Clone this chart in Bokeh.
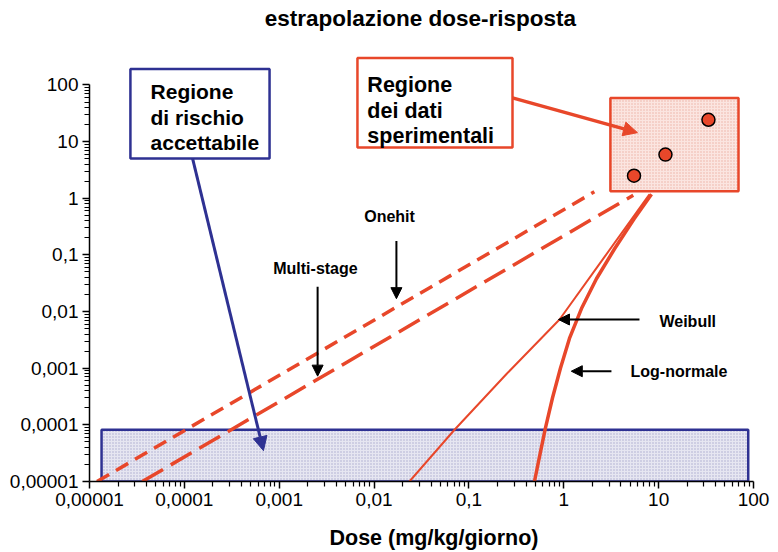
import math
from bokeh.plotting import figure
from bokeh.models import (Range1d, FixedTicker, CustomJSTickFormatter, Arrow, NormalHead, Label)
from bokeh.core.properties import value
from bokeh.embed import file_html
from bokeh.resources import INLINE

# ---------------- data ----------------
tick_values = [1e-5, 1e-4, 1e-3, 1e-2, 1e-1, 1, 10, 100]
tick_labels = ["0,00001", "0,0001", "0,001", "0,01", "0,1", "1", "10", "100"]

exp_dose = [5.5, 11.8, 33.5]
exp_resp = [2.5, 5.9, 24.3]

onehit_dose = [1.2e-5, 2.1]
onehit_resp = [1e-5, 1.3]

multistage_dose = [3.6e-5, 5.4]
multistage_resp = [1e-5, 1.13]

weibull_dose = [0.0236, 0.0705, 0.249, 0.902, 2.69, 8.0]
weibull_resp = [1e-5, 8.2e-5, 7.9e-4, 7.24e-3, 0.0923, 1.175]

lognorm_dose = [0.491, 0.552, 0.641, 0.760, 0.922, 1.148, 1.537, 2.21, 3.42, 5.50, 8.41]
lognorm_resp = [1e-5, 2.64e-5, 8.85e-5, 2.98e-4, 1e-3, 3.36e-3, 0.0113, 0.0379, 0.127, 0.429, 1.175]

accept_dose = [1.34e-5, 88.0]
accept_resp = [1e-5, 8.2e-5]

expbox_dose = [3.1, 69.5]
expbox_resp = [1.33, 59.0]

RED = "#e8472a"
BLUE = "#2e3192"
FONT = value("Liberation Sans")

p = figure(width=778, height=552, x_axis_type="log", y_axis_type="log",
           x_range=Range1d(1e-5, 10 ** 2.2636), y_range=Range1d(1e-5, 10 ** 3.491),
           output_backend="svg", toolbar_location=None, title=None,
           min_border_left=89, min_border_right=0, min_border_top=0, min_border_bottom=68)
p.outline_line_color = None
p.grid.visible = False
p.background_fill_color = "white"
p.border_fill_color = "white"

minor = [k * 10.0 ** e for e in range(-5, 2) for k in range(2, 10)]
fmt = CustomJSTickFormatter(args=dict(vals=tick_values, labs=tick_labels), code="""
    for (let i = 0; i < vals.length; i++) {
        if (Math.abs(Math.log10(tick) - Math.log10(vals[i])) < 1e-6) return labs[i];
    }
    return '';
""")
for ax in (p.xaxis[0], p.yaxis[0]):
    ax.ticker = FixedTicker(ticks=tick_values, minor_ticks=minor)
    ax.formatter = fmt
    ax.bounds = (1e-5, 100)
    ax.axis_line_color = "black"
    ax.axis_line_width = 1.5
    ax.major_tick_line_color = "black"
    ax.minor_tick_line_color = "black"
    ax.major_tick_line_width = 1.5
    ax.minor_tick_line_width = 1.2
    ax.major_tick_out = 7
    ax.major_tick_in = 0
    ax.minor_tick_out = 5
    ax.minor_tick_in = 0
    ax.major_label_text_font = "Liberation Sans"
    ax.major_label_text_font_size = "19px"
    ax.major_label_text_color = "black"
    ax.major_label_standoff = 4
    ax.axis_label_text_font = "Liberation Sans"
    ax.axis_label_text_font_style = "bold"
    ax.axis_label_text_font_size = "21.5px"
    ax.axis_label_text_color = "black"

p.xaxis.axis_label = "Dose (mg/kg/giorno)"
p.xaxis.axis_label_standoff = 17

# y-axis title placed over the tick-label column, as in the original
p.add_layout(Label(x=2.39e-6, y=0.031, text="% Risposta", angle=math.pi / 2,
                   text_font="Liberation Sans", text_font_style="bold", text_font_size="21px",
                   text_align="center", text_baseline="middle", text_color="black"))

# acceptable-risk region
p.quad(left=[accept_dose[0]], right=[accept_dose[1]], bottom=[accept_resp[0]], top=[accept_resp[1]],
       fill_color="#e6e6f1", line_color=BLUE, line_width=2.5,
       hatch_pattern="dot", hatch_color="#9c9cc4", hatch_scale=3, hatch_weight=1, hatch_alpha=0.8)

# model lines
p.line(onehit_dose, onehit_resp, line_color=RED, line_width=3.5, line_dash="14 8")
p.line(multistage_dose, multistage_resp, line_color=RED, line_width=3.5, line_dash="24 9")
p.line(weibull_dose, weibull_resp, line_color=RED, line_width=2, line_join="round")
p.line(lognorm_dose, lognorm_resp, line_color=RED, line_width=3.5, line_join="round")

# experimental region
p.quad(left=[expbox_dose[0]], right=[expbox_dose[1]], bottom=[expbox_resp[0]], top=[expbox_resp[1]],
       fill_color="#fbe5e0", line_color=RED, line_width=2.5,
       hatch_pattern="dot", hatch_color="#e8a496", hatch_scale=3, hatch_weight=1, hatch_alpha=0.8)
p.scatter(exp_dose, exp_resp, size=13, fill_color=RED, line_color="black", line_width=1.5)

# title
p.text(x=[0.0308], y=[1496], text=["estrapolazione dose-risposta"], text_font=FONT,
       text_font_style="bold", text_font_size="22.5px", text_align="center",
       text_baseline="middle", text_color="black")

# callout boxes
p.quad(left=[2.7e-5], right=[7.91e-4], bottom=[5.04], top=[191], fill_color="white",
       line_color=BLUE, line_width=2.5)
p.text(x=[4.4e-5] * 3, y=[75.3, 26.9, 9.6], text=["Regione", "di rischio", "accettabile"],
       text_font=FONT, text_font_style="bold", text_font_size="21px",
       text_align="left", text_baseline="alphabetic", text_color="black")
p.add_layout(Arrow(end=NormalHead(size=14, fill_color=BLUE, line_color=BLUE),
                   x_start=1.22e-4, y_start=5.04, x_end=6.82e-4, y_end=3.5e-5,
                   line_color=BLUE, line_width=3))

p.quad(left=[6.68e-3], right=[0.288], bottom=[7.85], top=[298], fill_color="white",
       line_color=RED, line_width=2.5)
p.text(x=[8.5e-3] * 3, y=[100, 35, 12.7], text=["Regione", "dei dati", "sperimentali"],
       text_font=FONT, text_font_style="bold", text_font_size="21.5px",
       text_align="left", text_baseline="alphabetic", text_color="black")
p.add_layout(Arrow(end=NormalHead(size=14, fill_color=RED, line_color=RED),
                   x_start=0.288, y_start=59.2, x_end=5.98, y_end=14.4,
                   line_color=RED, line_width=3.5))

# model labels and arrows
lab = dict(text_font=FONT, text_font_style="bold", text_font_size="16px",
           text_baseline="middle", text_color="black")
p.text(x=[0.01456], y=[0.483], text=["Onehit"], text_align="center", **lab)
p.text(x=[2.41e-3], y=[0.0567], text=["Multi-stage"], text_align="center", **lab)
p.text(x=[10.2], y=[6.68e-3], text=["Weibull"], text_align="left", **lab)
p.text(x=[5.05], y=[8.85e-4], text=["Log-normale"], text_align="left", **lab)

for xs, ys, xe, ye in [(0.0172, 0.176, 0.0172, 0.0169),
                       (2.54e-3, 0.0275, 2.54e-3, 7.24e-4),
                       (6.28, 7.24e-3, 0.879, 7.24e-3),
                       (3.18, 8.85e-4, 1.2, 8.85e-4)]:
    p.add_layout(Arrow(end=NormalHead(size=11, fill_color="black", line_color="black"),
                       x_start=xs, y_start=ys, x_end=xe, y_end=ye,
                       line_color="black", line_width=2))

open("out.html", "w").write(file_html(p, INLINE))
